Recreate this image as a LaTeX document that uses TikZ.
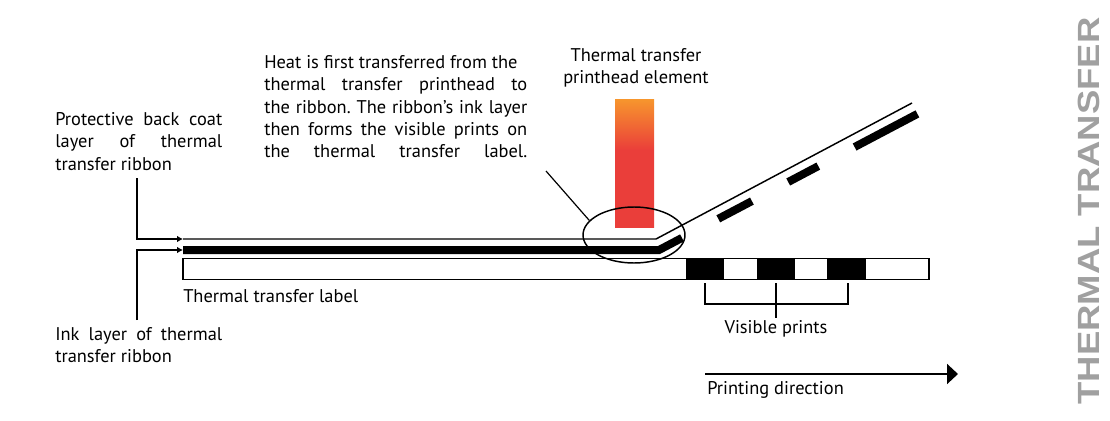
\documentclass[tikz,border=0pt]{standalone}
\usepackage{fontspec}
\setmainfont{PT Sans}
\newfontfamily\titlefont{Liberation Sans}
\usetikzlibrary{arrows.meta,shapes.geometric,calc}
\definecolor{horange}{RGB}{247,150,45}
\definecolor{hred}{RGB}{234,62,58}
\definecolor{titlegray}{RGB}{160,160,160}
\pgfdeclareverticalshading{heatshade}{100bp}{color(0bp)=(hred); color(25bp)=(hred); color(55bp)=(hred); color(75bp)=(horange); color(100bp)=(horange)}
\frenchspacing
\begin{document}
\begin{tikzpicture}[x=0.75pt,y=-0.75pt,
  txt/.style={font=\fontsize{13.8}{16.65}\selectfont, inner sep=0pt, align=left},
  thin/.style={line width=1.1pt},
  ink/.style={line width=6pt, line cap=butt, line join=miter},
  pointer/.style={line width=0.9pt, -{Latex[length=4.5pt,width=5pt]}},
  heatel/.style={shading=heatshade, minimum width=29.25pt, minimum height=96pt, inner sep=0pt},
  zoomring/.style={draw, ellipse, line width=1.1pt, minimum width=76.5pt, minimum height=42pt, inner sep=0pt},
  block/.style={fill=black}
]
\useasboundingbox (0,0) rectangle (1110,421);

% printhead element
\node[heatel] (ph) at (634.5,163) {};

% ribbon geometry
\coordinate (rs) at (183,239);
\coordinate (rb) at (656,239);
\coordinate (re) at (912,103);
\coordinate (bs) at (183,250);
\coordinate (bb) at (659,250);
\coordinate (bk) at (682,237.9);
\coordinate (d1a) at (718.3,218.8);
\coordinate (d1b) at (751.9,201.1);
\coordinate (d2a) at (788.2,182.0);
\coordinate (d2b) at (818.3,166.1);
\coordinate (d3a) at (854.6,147.0);
\coordinate (d3b) at (917.4,113.9);

\draw[thin] (rs) -- (rb) -- (re);
\draw[ink] (bs) -- (bb) -- (bk);
\draw[ink] (d1a) -- (d1b);
\draw[ink] (d2a) -- (d2b);
\draw[ink] (d3a) -- (d3b);

% label with prints
\draw[thin] (183,258.5) rectangle (929,279.5);
\fill[block] (686,258.5) rectangle (724,279.5);
\fill[block] (757,258.5) rectangle (795,279.5);
\fill[block] (827,258.5) rectangle (866,279.5);

% zoom ellipse
\node[zoomring] (hl) at (634,235) {};

% texts
\node[txt, anchor=north west] (protect) at (55,112.5)
  {\makebox[125.25pt][s]{Protective back coat}\\ \makebox[125.25pt][s]{layer of thermal}\\ transfer ribbon};
\node[txt, anchor=north west] (inkt) at (55,327.5)
  {\makebox[125.25pt][s]{Ink layer of thermal}\\ transfer ribbon};
\node[txt, anchor=north west] (heat) at (264,55.5)
  {Heat is first transferred from the\\
   \makebox[197.25pt][s]{thermal transfer printhead to}\\
   \makebox[197.25pt][s]{the ribbon. The ribbon’s ink layer}\\
   \makebox[197.25pt][s]{then forms the visible prints on}\\
   \makebox[197.25pt][s]{the thermal transfer label.}};
\node[txt, anchor=north, align=center] (phl) at (636,48.5)
  {Thermal transfer\\ printhead element};
\node[txt, anchor=base west] (lab) at (183,302) {Thermal transfer label};
\node[txt, anchor=base] (vis) at (776,333) {Visible prints};
\node[txt, anchor=base west] (dir) at (707,394) {Printing direction};

% left pointers
\coordinate (pa) at (137,178);
\coordinate (pb) at (137,320);
\draw[pointer] (pa) |- (rs);
\draw[pointer] (pb) |- (bs);

% pointer to ellipse
\coordinate (ptr) at (546,171);
\draw[line width=0.9pt] (ptr) -- (hl.162);

% bracket for visible prints
\coordinate (v1) at (705,283);
\coordinate (v2) at (848,283);
\coordinate (vm) at (776,283);
\draw[line width=1pt] (v1) -- (705,304) -- (848,304) -- (v2);
\draw[line width=1pt] (vm) -- (776,318);

% printing direction
\coordinate (pd1) at (705,374);
\coordinate (pd2) at (958,374);
\draw[line width=1.5pt, -{Triangle[length=8.25pt,width=15pt]}] (pd1) -- (pd2);

% vertical title
\node[inner sep=0pt, rotate=90, text=titlegray, font=\titlefont\bfseries\fontsize{23}{23}\selectfont] (title) at (1089,211)
  {\scalebox{1.19}[1]{THERMAL TRANSFER}};
\end{tikzpicture}
\end{document}
